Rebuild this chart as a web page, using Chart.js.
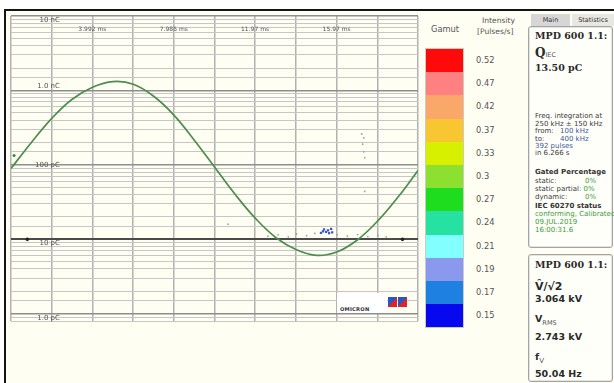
<!DOCTYPE html>
<html>
<head>
<meta charset="utf-8">
<script src="https://cdn.jsdelivr.net/npm/chart.js@4.4.1/dist/chart.umd.min.js"></script>
<style>
body{margin:0;width:614px;height:383px;background:#fff;position:relative;overflow:hidden;font-family:"DejaVu Sans",sans-serif;color:#333;}
#frame{position:absolute;left:4px;top:9px;width:608px;height:372px;border-top:2px solid #141414;border-left:2px solid #141414;background:#fefef3;}
#plot{position:absolute;left:7px;top:12px;}
.t{position:absolute;white-space:nowrap;transform:translateY(-50%);line-height:1;}
.big{font-family:"DejaVu Serif",serif;font-weight:bold;font-size:9.5px;color:#2a2a2a;}
.val{font-weight:bold;font-size:9.5px;color:#2a2a2a;}
.sm{font-size:7px;color:#3a3a3a;}
.smb{font-size:7px;font-weight:bold;color:#333;}
.grn{color:#3b9a3b;}
.blu{color:#3c5a9a;}
.panel{position:absolute;left:528px;width:83px;border:1px solid #a4a4a4;border-radius:3px;background:#fffffa;box-shadow:inset 0 0 0 1px #e4e4e4;}
.tab{position:absolute;top:14px;height:12px;font-size:6.5px;line-height:12px;text-align:center;color:#333;}
#gamut{position:absolute;left:426px;top:49px;width:37px;outline:1px solid rgba(0,0,0,0.2);}
#gamutVals{position:absolute;left:476px;top:49px;font-size:8.3px;color:#555;}
.logo{position:absolute;left:337px;top:293px;width:50px;height:20px;background:#fff;}
.ico{position:absolute;top:297px;width:9px;height:10px;background:linear-gradient(135deg,#2a55c8 50%,#e02424 50%);}
</style>
</head>
<body>
<div id="frame"></div>
<canvas id="plot" width="415" height="313"></canvas>

<div class="t" style="left:431px;top:29px;font-size:8.3px;color:#555;">Gamut</div>
<div class="t" style="left:482px;top:21px;font-size:7.6px;color:#555;">Intensity</div>
<div class="t" style="left:477px;top:32px;font-size:7.6px;color:#555;">[Pulses/s]</div>
<div id="gamut"></div>
<div id="gamutVals"></div>

<div class="logo"></div>
<div class="t" style="left:340px;top:310px;font-size:5.2px;font-weight:bold;color:#333;letter-spacing:0.2px;">OMICRON</div>
<div class="ico" style="left:388px;"></div>
<div class="ico" style="left:398px;"></div>

<div class="tab" style="left:531px;width:39px;background:#d6d6d6;">Main</div>
<div class="tab" style="left:572px;width:42px;background:#e8e8e2;">Statistics</div>

<div class="panel" style="top:26px;height:220px;"></div>
<div class="t big" style="left:535px;top:36px;">MPD 600 1.1:</div>
<div class="t" style="left:535px;top:53px;font-family:'DejaVu Serif',serif;font-weight:bold;font-size:12px;color:#2a2a2a;">Q<span style="font-family:'DejaVu Sans',sans-serif;font-weight:normal;font-size:6.5px;color:#555;">IEC</span></div>
<div class="t big" style="left:535px;top:68px;">13.50 pC</div>
<div class="t sm" style="left:535px;top:116px;">Freq. integration at</div>
<div class="t sm" style="left:535px;top:124px;">250 kHz ± 150 kHz</div>
<div class="t sm" style="left:535px;top:131px;">from:<span class="blu" style="position:absolute;left:25px;">100 kHz</span></div>
<div class="t sm" style="left:535px;top:139px;">to:<span class="blu" style="position:absolute;left:25px;">400 kHz</span></div>
<div class="t sm blu" style="left:535px;top:146px;">392 pulses</div>
<div class="t sm" style="left:535px;top:153px;">in 6.266 s</div>
<div class="t smb" style="left:535px;top:172px;">Gated Percentage</div>
<div class="t sm" style="left:535px;top:181px;">static:<span class="grn" style="position:absolute;left:50px;">0%</span></div>
<div class="t sm" style="left:535px;top:189px;">static partial: <span class="grn">0%</span></div>
<div class="t sm" style="left:535px;top:197px;">dynamic:<span class="grn" style="position:absolute;left:50px;">0%</span></div>
<div class="t smb" style="left:535px;top:206px;">IEC 60270 status</div>
<div class="t sm grn" style="left:535px;top:214px;">conforming, Calibrated</div>
<div class="t sm grn" style="left:535px;top:222px;">09.JUL.2019</div>
<div class="t sm grn" style="left:535px;top:230px;">16:00:31.6</div>

<div class="panel" style="top:254px;height:126px;"></div>
<div class="t big" style="left:535px;top:265px;">MPD 600 1.1:</div>
<div class="t val" style="left:535px;top:286px;font-size:11px;">V̂/√2</div>
<div class="t val" style="left:535px;top:299px;">3.064 kV</div>
<div class="t val" style="left:535px;top:319px;">V<span style="font-weight:normal;font-size:6.5px;color:#555;position:relative;top:3px;">RMS</span></div>
<div class="t val" style="left:535px;top:337px;">2.743 kV</div>
<div class="t val" style="left:535px;top:357px;">f<span style="font-weight:normal;font-size:7px;color:#555;position:relative;top:3px;">V</span></div>
<div class="t val" style="left:535px;top:374px;">50.04 Hz</div>

<script>
// voltage trace (kV) over one mains period
var timeMs = [0, 1, 2, 3, 4, 5, 6, 7, 8, 9, 10, 11, 12, 13, 14, 15, 16, 17, 18, 19, 19.96];
var voltageKv = [0.0, 1.30, 2.50, 3.45, 4.05, 4.33, 4.20, 3.60, 2.65, 1.40, 0.05, -1.30, -2.50, -3.45, -4.05, -4.33, -4.15, -3.55, -2.60, -1.40, -0.10];

// PD pulses (charge in pC)
var pdTimeMs = [10.65, 12.6, 13.1, 13.6, 14.0, 14.5, 14.9, 16.0, 16.5, 17.0, 17.5, 18.0, 18.4, 17.2, 17.3, 17.25, 17.3, 17.35, 17.35];
var pdChargePc = [16, 11.0, 11.5, 10.8, 11.8, 11.2, 12.0, 11.5, 11.0, 11.6, 10.9, 11.3, 10.8, 260, 230, 190, 150, 125, 44];
var pdBlueTimeMs = [15.2, 15.3, 15.35, 15.45, 15.55, 15.6, 15.7, 15.75];
var pdBlueChargePc = [12.2, 12.8, 13.6, 12.6, 13.2, 12.1, 13.8, 12.4];

var thresholdTimeMs = [0.8, 19.2];
var thresholdPc = [10, 10];

var yDecades = [1, 10, 100, 1000, 10000];
var yDecadeLabels = ['1.0 pC', '10 pC', '100 pC', '1.0 nC', '10 nC'];
var timeTicks = [3.992, 7.985, 11.97, 15.97];
var timeTickLabels = ['3.992 ms', '7.985 ms', '11.97 ms', '15.97 ms'];

var gamutColors = ['#ff0a0a', '#ff8080', '#faa86a', '#f8c630', '#d6f000', '#8ee030', '#1edc1e', '#26e2a2', '#82ffff', '#8a98ee', '#1e80e0', '#0808ee'];
var gamutValues = ['0.52', '0.47', '0.42', '0.37', '0.33', '0.3', '0.27', '0.24', '0.21', '0.19', '0.17', '0.15'];

var gBox = document.getElementById('gamut');
var gVals = document.getElementById('gamutVals');
for (var i in gamutColors) {
	var b = document.createElement('div');
	b.style.cssText = 'height:23.2px;background:' + gamutColors[i];
	gBox.appendChild(b);
	var l = document.createElement('div');
	l.style.cssText = 'height:23.2px;line-height:23.2px;';
	l.textContent = gamutValues[i];
	gVals.appendChild(l);
}

function decadeIndex(v) {
	for (var k = 0; k < yDecades.length; k++) {
		if (Math.abs(v - yDecades[k]) < 1e-6 * yDecades[k]) return k;
	}
	return -1;
}

function pts(xs, ys) {
	return xs.map(function(x, i) { return {x: x, y: ys[i]}; });
}

// axes sit inside the plot: no room taken, no label overhang
function noRoom(axis) {
	if (axis.isHorizontal()) axis.height = 0; else axis.width = 0;
	axis.paddingTop = 0;
	axis.paddingBottom = 0;
	axis.paddingLeft = 0;
	axis.paddingRight = 0;
}

var ctx = document.getElementById('plot');
var chart = new Chart(ctx, {
	type: 'line',
	data: {
		datasets: [
			{
				label: 'V',
				data: pts(timeMs, voltageKv),
				yAxisID: 'yV',
				borderColor: '#4d8d4d',
				borderWidth: 1.7,
				pointRadius: 0,
				tension: 0.4,
				fill: false
			},
			{
				type: 'scatter',
				label: 'cursor',
				data: pts([0.15], [0.65]),
				yAxisID: 'yV',
				pointRadius: 1.5,
				pointBackgroundColor: '#2f8f2f',
				pointBorderWidth: 0
			},
			{
				type: 'scatter',
				label: 'pd',
				data: pts(pdTimeMs, pdChargePc),
				yAxisID: 'y',
				pointRadius: 0.9,
				pointBackgroundColor: '#9aa0a8',
				pointBorderWidth: 0
			},
			{
				type: 'scatter',
				label: 'pd blue',
				data: pts(pdBlueTimeMs, pdBlueChargePc),
				yAxisID: 'y',
				pointRadius: 1.6,
				pointStyle: 'rect',
				pointBackgroundColor: '#3a56c8',
				pointBorderWidth: 0
			},
			{
				type: 'scatter',
				label: 'threshold',
				data: pts(thresholdTimeMs, thresholdPc),
				yAxisID: 'y',
				pointRadius: 1.8,
				pointBackgroundColor: '#222',
				pointBorderWidth: 0
			}
		]
	},
	options: {
		responsive: false,
		animation: false,
		plugins: { legend: { display: false }, tooltip: { enabled: false } },
		layout: { padding: 0 },
		scales: {
			x: {
				type: 'linear',
				position: 'bottom',
				min: 0,
				max: 19.96,
				afterFit: noRoom,
				ticks: { display: false, stepSize: 1.996 },
				grid: { color: '#b2b2b2', lineWidth: 1.5, drawTicks: false },
				border: { display: false }
			},
			xt: {
				type: 'linear',
				position: 'top',
				min: 0,
				max: 19.96,
				afterBuildTicks: function(axis) {
					axis.ticks = timeTicks.map(function(v) { return {value: v}; });
				},
				afterFit: noRoom,
				ticks: {
					mirror: true,
					padding: 10,
					autoSkip: false,
					maxRotation: 0,
					color: '#555',
					font: { family: 'DejaVu Sans', size: 6 },
					callback: function(v) {
						var k = timeTicks.indexOf(v);
						return k >= 0 ? timeTickLabels[k] : '';
					}
				},
				grid: { display: false },
				border: { display: false }
			},
			y: {
				type: 'logarithmic',
				position: 'left',
				min: 0.8,
				max: 10000,
				afterFit: noRoom,
				ticks: {
					mirror: true,
					crossAlign: 'far',
					padding: 24,
					autoSkip: false,
					color: '#555',
					font: { family: 'DejaVu Sans', size: 7 },
					callback: function(v) {
						var k = decadeIndex(v);
						if (k < 0) return '';
						var txt = yDecadeLabels[k];
						if (yDecades[k] === 1000) return [txt, ''];
						if (yDecades[k] === 100) return txt;
						return ['', txt];
					}
				},
				grid: {
					drawTicks: false,
					color: function(c) {
						var v = c.tick ? c.tick.value : 0;
						var k = decadeIndex(v);
						if (k < 0) return '#c6c6c6';
						return yDecades[k] === 10 ? '#4a4a4a' : '#8e8e8e';
					},
					lineWidth: function(c) {
						var v = c.tick ? c.tick.value : 0;
						var k = decadeIndex(v);
						if (k < 0) return 1;
						return yDecades[k] === 10 ? 2 : 1.4;
					}
				},
				border: { display: false }
			},
			yV: {
				type: 'linear',
				display: false,
				min: -7.6,
				max: 7.6
			}
		}
	}
});
</script>
</body>
</html>
